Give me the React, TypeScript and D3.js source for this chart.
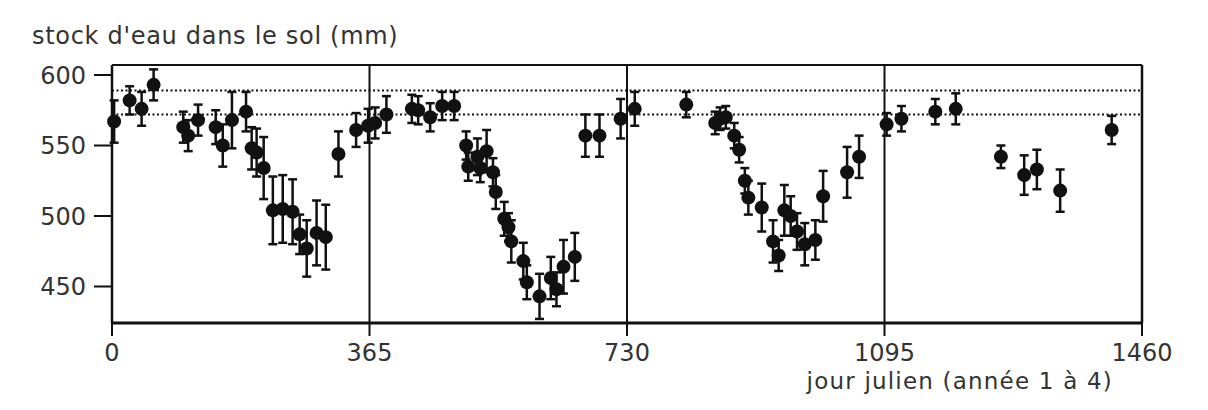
import React from "react";
import * as d3 from "d3";

const days = [3, 25, 42, 59, 101, 108, 122, 147, 157, 170, 190, 198, 205, 215, 228, 242, 256, 266, 276, 290, 303, 321, 346, 363,
  373, 389, 425, 434, 451, 468, 485, 502, 505, 518, 522, 531, 540, 544, 556, 562, 566, 583, 588, 606, 622, 630, 640, 656, 671, 691, 721, 741,
  814, 855, 862, 870, 882, 889, 897, 902, 921, 937, 945, 953, 962, 971, 982, 997, 1008, 1042, 1059,
  1098, 1119, 1167, 1196, 1260, 1293, 1311, 1344, 1417];
const values = [567, 582, 576, 593, 563, 557, 568, 563, 550, 568, 574, 548, 545, 534, 504, 505, 503, 487, 477, 488, 485, 544, 561, 564,
  566, 572, 576, 575, 570, 578, 578, 550, 535, 542, 534, 546, 531, 517, 498, 492, 482, 468, 453, 443, 456, 448, 464, 471, 557, 557, 569, 576,
  579, 566, 569, 570, 557, 547, 525, 513, 506, 482, 472, 504, 500, 489, 480, 483, 514, 531, 542,
  565, 569, 574, 576, 542, 529, 533, 518, 561];
const errors = [15, 10, 12, 11, 11, 11, 11, 12, 15, 20, 14, 15, 17, 22, 24, 24, 23, 14, 20, 23, 23, 16, 12, 12,
  11, 13, 10, 10, 10, 10, 10, 10, 10, 13, 10, 15, 10, 12, 12, 10, 15, 13, 12, 16, 15, 12, 19, 17, 15, 15, 14, 12,
  9, 8, 8, 8, 9, 9, 9, 12, 17, 15, 11, 18, 14, 13, 15, 14, 18, 18, 15,
  8, 9, 9, 11, 8, 14, 14, 15, 10];

const xTicks = [0, 365, 730, 1095, 1460];
const yTicks = [450, 500, 550, 600];
const refLines = [589, 572];

const titleY = "stock d'eau dans le sol (mm)";
const titleX = "jour julien (année 1 à 4)";

export default function App() {
  const W = 1208, H = 410;
  const left = 112, right = 1142, top = 65, bottom = 323;
  const x = d3.scaleLinear().domain([0, 1460]).range([left, right]);
  const y = d3.scaleLinear().domain([450, 600]).range([286.5, 75]);
  const font = "'DejaVu Sans', sans-serif";
  const ink = "#111";
  const txt = "#333";
  const pts = days.map((d, i) => ({ d, v: values[i], e: errors[i] }));
  return (
    <svg width={W} height={H} style={{ position: "absolute", left: 0, top: 0, background: "#fff" }}>
      <rect x={0} y={0} width={W} height={H} fill="#fff" />
      <text x={32} y={44} fontFamily={font} fontSize={24} letterSpacing={0.7} fill={txt}>{titleY}</text>
      {refLines.map((r) => (
        <line key={r} x1={left} x2={right} y1={y(r)} y2={y(r)} stroke={ink} strokeWidth={2} strokeDasharray="2,2.5" />
      ))}
      <line x1={left} x2={right} y1={top} y2={top} stroke={ink} strokeWidth={2} />
      <line x1={left} x2={right} y1={bottom} y2={bottom} stroke={ink} strokeWidth={3} />
      <line x1={left} x2={left} y1={top} y2={bottom} stroke={ink} strokeWidth={2.5} />
      <line x1={right} x2={right} y1={top} y2={bottom} stroke={ink} strokeWidth={2.5} />
      {xTicks.map((t) => (
        <g key={t}>
          <line x1={x(t)} x2={x(t)} y1={top} y2={bottom + 13} stroke={ink} strokeWidth={2} />
          <text x={x(t)} y={361} textAnchor="middle" fontFamily={font} fontSize={24} fill={txt}>{t}</text>
        </g>
      ))}
      {yTicks.map((t) => (
        <g key={t}>
          <line x1={left - 18} x2={left} y1={y(t)} y2={y(t)} stroke={ink} strokeWidth={2} />
          <text x={86} y={y(t)} dy="0.36em" textAnchor="end" fontFamily={font} fontSize={24} fill={txt}>{t}</text>
        </g>
      ))}
      <text x={1113} y={389} textAnchor="end" fontFamily={font} fontSize={23} letterSpacing={1.2} fill={txt}>{titleX}</text>
      {pts.map((p, i) => {
        const cx = x(p.d);
        const y1 = y(p.v + p.e), y2 = y(p.v - p.e);
        return (
          <g key={i}>
            <line x1={cx} x2={cx} y1={y1} y2={Math.min(y2, bottom)} stroke={ink} strokeWidth={2.5} />
            <line x1={cx - 4.5} x2={cx + 4.5} y1={y1} y2={y1} stroke={ink} strokeWidth={2.5} />
            {y2 < bottom && <line x1={cx - 4.5} x2={cx + 4.5} y1={y2} y2={y2} stroke={ink} strokeWidth={2.5} />}
            <circle cx={cx} cy={y(p.v)} r={7} fill={ink} />
          </g>
        );
      })}
    </svg>
  );
}
